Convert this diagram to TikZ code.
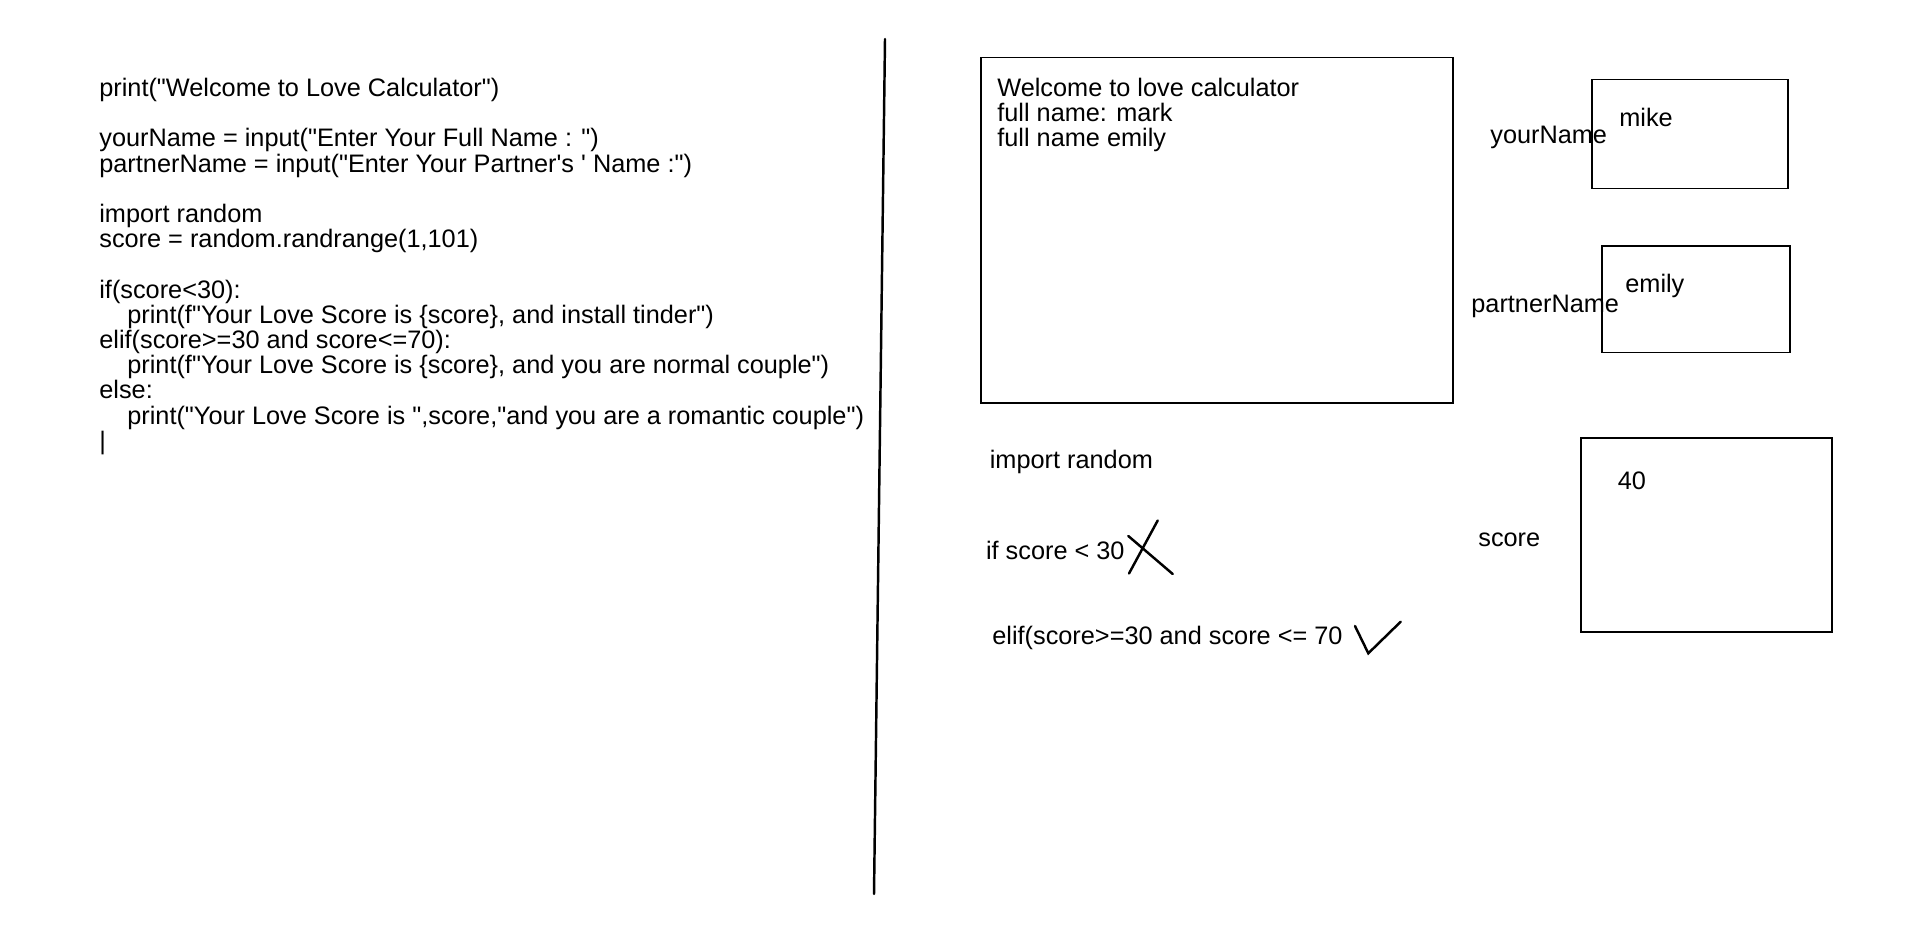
\documentclass[tikz,border=0pt]{standalone}
\usepackage{fontspec}
\setmainfont{Liberation Sans}[Ligatures=TeXOff]

\begin{document}
\begin{tikzpicture}[x=0.02cm,y=-0.02cm,
    txt/.style={anchor=base west,inner sep=0pt,font=\fontsize{14.4pt}{14.3pt}\selectfont},
    box/.style={line width=0.7pt},
    pen/.style={line width=1.4pt,line cap=round}]
    \useasboundingbox (0,0) rectangle (1920,939);
    % code on the left
    \node[txt] (pwelcome) at (99,96.5) {print("Welcome to Love Calculator")};
    \node[txt] (inyour) at (99,146.9) {yourName = input("Enter Your Full Name : ")};
    \node[txt] (inpartner) at (99,172.1) {partnerName = input("Enter Your Partner's ' Name :")};
    \node[txt] (imp) at (99,222.5) {import random};
    \node[txt] (rnd) at (99,247.6) {score = random.randrange(1,101)};
    \node[txt] (iflow) at (99,298) {if(score<30):};
    \node[txt] (plow) at (127,323.2) {print(f"Your Love Score is \{score\}, and install tinder")};
    \node[txt] (ifmid) at (99,348.4) {elif(score>=30 and score<=70):};
    \node[txt] (pmid) at (127,373.6) {print(f"Your Love Score is \{score\}, and you are normal couple")};
    \node[txt] (ifhigh) at (99,398.8) {else:};
    \node[txt] (phigh) at (127,424) {print("Your Love Score is ",score,"and you are a romantic couple")};
    \node[txt] (cursor) at (99,449.2) {|};
    % divider
    \draw[pen] (885,39) -- (874,894);
    % output window
    \draw[box] (981,57.5) rectangle (1453,403);
    \node[txt] (owelcome) at (997,96.5) {Welcome to love calculator};
    \node[txt] (omark) at (997,121.7) {full name: mark};
    \node[txt] (oemily) at (997,146.9) {full name emily};
    % variables
    \draw[box] (1592,79.6) rectangle (1788,188.6);
    \node[txt] (vyour) at (1619,126.8) {mike};
    \node[txt] (lyour) at (1490,144) {yourName};
    \draw[box] (1602,246) rectangle (1790,352.6);
    \node[txt] (vpartner) at (1625,292.3) {emily};
    \node[txt] (lpartner) at (1471,313) {partnerName};
    \draw[box] (1581,438) rectangle (1832,632);
    \node[txt] (vscore) at (1617.5,489) {40};
    \node[txt] (lscore) at (1478,546.5) {score};
    % conditions
    \node[txt] (trimp) at (989.5,468.5) {import random};
    \node[txt] (trlow) at (985.7,559.5) {if score < 30};
    \node[txt] (trmid) at (992,644.8) {elif(score>=30 and score <= 70};
    \draw[pen] (1157.7,520.5) -- (1129,573.5);
    \draw[pen] (1128.3,536) -- (1172.7,574);
    \draw[pen] (1355,626) -- (1368.3,653.3) -- (1400.7,621.7);
\end{tikzpicture}
\end{document}
